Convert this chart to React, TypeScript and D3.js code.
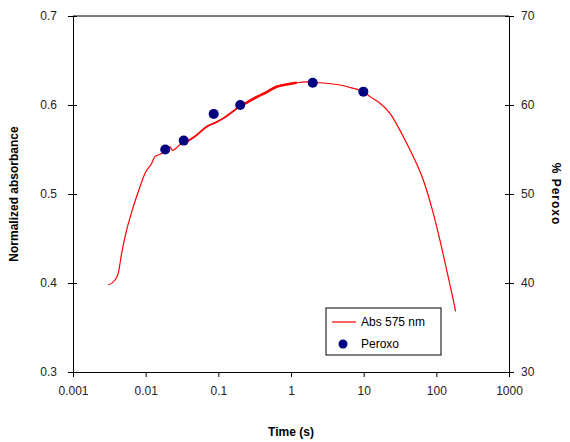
import React, { useEffect, useRef } from 'react';
import * as d3 from 'd3';

// absorbance trace (time in s, normalized absorbance)
const absTime = [0.00306, 0.00378, 0.0042, 0.00467, 0.00548, 0.00676, 0.00836, 0.0098, 0.0121, 0.0134, 0.0166, 0.0186, 0.0215, 0.0235, 0.0267, 0.03, 0.035, 0.0407, 0.05, 0.069, 0.09, 0.117, 0.16, 0.2, 0.25, 0.337, 0.45, 0.635, 0.85, 1.2, 1.6, 2.5, 4.72, 7, 9.9, 12.2, 16.8, 23.0, 35.1, 48.2, 66.1, 90.8, 112, 138.7, 171, 184];
const absValue = [0.3978, 0.4034, 0.411, 0.4333, 0.4596, 0.4857, 0.5082, 0.5233, 0.5345, 0.542, 0.5457, 0.551, 0.553, 0.549, 0.552, 0.556, 0.558, 0.561, 0.566, 0.5756, 0.58, 0.585, 0.593, 0.599, 0.603, 0.609, 0.614, 0.6206, 0.623, 0.625, 0.626, 0.625, 0.6225, 0.619, 0.615, 0.6094, 0.602, 0.5907, 0.5644, 0.5419, 0.5157, 0.4783, 0.4483, 0.4146, 0.381, 0.368];

// peroxo fraction (%)
const peroxoTime = [0.0186, 0.0334, 0.0863, 0.2, 1.99, 9.9];
const peroxoPct = [55, 56, 59, 60, 62.5, 61.5];

const xTicks = [0.001, 0.01, 0.1, 1, 10, 100, 1000];
const xTickLabels = ['0.001', '0.01', '0.1', '1', '10', '100', '1000'];
const leftTicks = [0.3, 0.4, 0.5, 0.6, 0.7];
const rightTicks = [30, 40, 50, 60, 70];

const font = 'Arial, "Liberation Sans", sans-serif';

const App = () => {
  const svgRef = useRef<SVGSVGElement>(null);

  useEffect(() => {
    const width = 570;
    const height = 442;
    const left = 73;
    const right = 509;
    const top = 16;
    const bottom = 372;

    const svg = d3.select(svgRef.current);
    svg.selectAll('*').remove();
    svg.attr('width', width).attr('height', height);

    const x = d3.scaleLog().domain([0.001, 1000]).range([left, right]);
    const y = d3.scaleLinear().domain([0.3, 0.7]).range([bottom, top]);
    const y2 = d3.scaleLinear().domain([30, 70]).range([bottom, top]);

    // frame: top line and axes
    svg.append('line')
      .attr('x1', left).attr('x2', right).attr('y1', top).attr('y2', top)
      .attr('stroke', '#000').attr('stroke-width', 1);

    const xAxis = svg.append('g')
      .attr('transform', `translate(0,${bottom})`)
      .call(d3.axisBottom(x).tickValues(xTicks).tickFormat((d, i) => xTickLabels[i]).tickSize(5).tickSizeOuter(0));
    xAxis.selectAll('text').attr('font-size', 12).attr('font-family', font).attr('dy', '1.25em').attr('fill', '#222');

    const yAxis = svg.append('g')
      .attr('transform', `translate(${left},0)`)
      .call(d3.axisLeft(y).tickValues(leftTicks).tickFormat(d3.format('.1f')).tickSize(5).tickSizeOuter(0));
    yAxis.selectAll('.tick line').attr('x2', 4).attr('x1', -5);
    yAxis.selectAll('text').attr('font-size', 12).attr('font-family', font).attr('x', -16).attr('fill', '#222');

    const yAxis2 = svg.append('g')
      .attr('transform', `translate(${right},0)`)
      .call(d3.axisRight(y2).tickValues(rightTicks).tickSize(5).tickSizeOuter(0));
    yAxis2.selectAll('.tick line').attr('x1', -4).attr('x2', 5);
    yAxis2.selectAll('text').attr('font-size', 12).attr('font-family', font).attr('x', 12).attr('fill', '#222');

    svg.selectAll('.domain').attr('stroke', '#000');

    // absorbance line
    const absData = absTime.map((t, i) => ({ t, v: absValue[i] }));
    const line = d3.line<{ t: number; v: number }>()
      .x(d => x(d.t))
      .y(d => y(d.v))
      .curve(d3.curveMonotoneX);
    svg.append('path')
      .datum(absData)
      .attr('d', line)
      .attr('fill', 'none')
      .attr('stroke', '#ff0000')
      .attr('stroke-width', 1.2);
    // noisy band in the trace
    svg.append('path')
      .datum(absData.filter(d => d.t >= 0.2 && d.t <= 1.3))
      .attr('d', line)
      .attr('fill', 'none')
      .attr('stroke', '#ff0000')
      .attr('stroke-width', 2.6);
    svg.append('path')
      .datum(absData.filter(d => d.t >= 0.035 && d.t <= 0.2))
      .attr('d', line)
      .attr('fill', 'none')
      .attr('stroke', '#ff0000')
      .attr('stroke-width', 1.7);

    // peroxo points
    svg.selectAll('circle.peroxo')
      .data(peroxoTime.map((t, i) => ({ t, p: peroxoPct[i] })))
      .enter()
      .append('circle')
      .attr('class', 'peroxo')
      .attr('cx', d => x(d.t))
      .attr('cy', d => y2(d.p))
      .attr('r', 5)
      .attr('fill', '#000080');

    // axis titles
    svg.append('text')
      .attr('x', (left + right) / 2)
      .attr('y', 436)
      .attr('text-anchor', 'middle')
      .attr('font-family', font).attr('font-size', 12).attr('font-weight', 'bold')
      .text('Time (s)');
    svg.append('text')
      .attr('transform', `translate(18,${(top + bottom) / 2}) rotate(-90)`)
      .attr('text-anchor', 'middle')
      .attr('font-family', font).attr('font-size', 12).attr('font-weight', 'bold')
      .text('Normalized absorbance');
    svg.append('text')
      .attr('transform', `translate(552,${(top + bottom) / 2}) rotate(90)`)
      .attr('text-anchor', 'middle')
      .attr('font-family', font).attr('font-size', 12).attr('font-weight', 'bold')
      .attr('letter-spacing', 1)
      .text('% Peroxo');

    // legend
    const legend = svg.append('g');
    legend.append('rect')
      .attr('x', 326).attr('y', 308).attr('width', 115).attr('height', 47)
      .attr('fill', '#fff').attr('stroke', '#000').attr('stroke-width', 1);
    legend.append('line')
      .attr('x1', 332).attr('x2', 356).attr('y1', 322).attr('y2', 322)
      .attr('stroke', '#ff0000').attr('stroke-width', 1.2);
    legend.append('text')
      .attr('x', 361).attr('y', 326)
      .attr('font-family', font).attr('font-size', 12)
      .text('Abs 575 nm');
    legend.append('circle')
      .attr('cx', 343).attr('cy', 344).attr('r', 4.5).attr('fill', '#000080');
    legend.append('text')
      .attr('x', 361).attr('y', 348)
      .attr('font-family', font).attr('font-size', 12)
      .text('Peroxo');
  }, []);

  return (
    <svg ref={svgRef} style={{ position: 'absolute', left: 0, top: 0 }}></svg>
  );
};

export default App;
